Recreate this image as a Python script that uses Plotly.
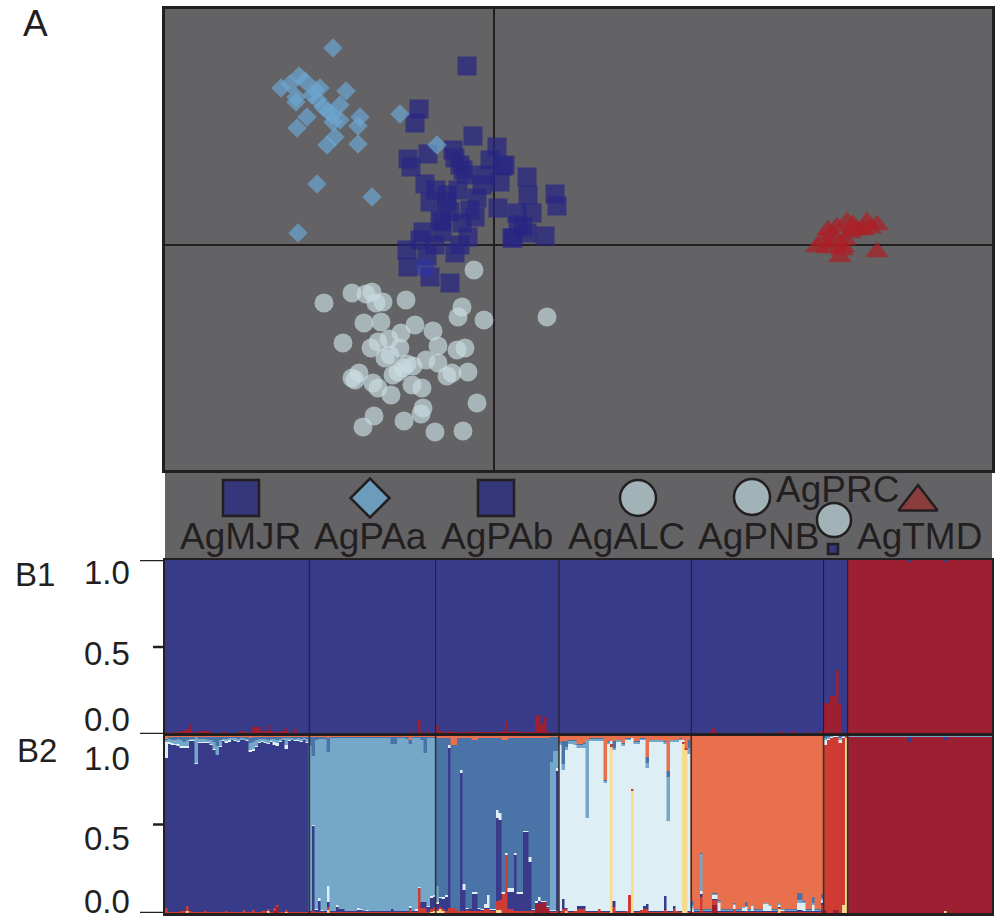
import plotly.graph_objects as go

FONT = "Liberation Sans, Arial, Helvetica, sans-serif"
INK = "#231f20"

# ===================== Panel A : PCA scores (PC1, PC2) =====================
MJR_pc1 = [-0.27,-0.75,-0.79,-0.21,0.03,-0.66,-0.86,-0.83,-0.41,-0.39,-0.34,-0.31,-0.28,-0.09,0.09,
           0.06,0.33,-0.69,-0.47,-0.17,-0.64,0.34,0.61,0.63,0.04,-0.44,-0.19,0.23,0.38]
MJR_pc2 = [1.79,1.36,1.22,1.09,0.98,0.91,0.86,0.78,0.95,0.87,0.80,0.75,0.70,0.70,0.79,
           0.63,0.68,0.61,0.50,0.47,0.43,0.50,0.51,0.39,0.37,0.33,0.28,0.32,0.32]
PAb_pc1 = [-0.52,-0.32,0.24,-0.71,-0.52,-0.26,0.18,0.33,0.51,-0.87,-0.67,-0.39,-0.86,-0.64,
           -0.44,0.11,0.29,0.19,-0.54,-0.47,-0.58,-0.36,-0.12,-0.04,-0.24,-0.74,-0.59,-0.34]
PAb_pc2 = [0.23,0.22,0.20,0.13,0.13,0.08,0.07,0.12,0.09,-0.05,-0.11,-0.08,-0.22,-0.32,
           -0.38,0.80,0.18,0.07,0.25,0.43,0.55,0.55,0.60,0.85,0.35,0.05,0.00,0.00]
PAa_pc1 = [-1.61,-2.13,-1.95,-1.89,-1.98,-1.98,-1.79,-1.74,-1.48,-1.76,-1.71,-1.54,-1.62,-1.61,-1.87,
           -1.97,-1.34,-1.36,-1.59,-1.67,-1.36,-0.94,-0.57,-1.77,-1.22,-1.96,-1.82,-1.66,-2.04,-1.54]
PAa_pc2 = [1.97,1.57,1.69,1.64,1.48,1.43,1.55,1.57,1.54,1.45,1.38,1.40,1.30,1.23,1.28,
           1.17,1.28,1.19,1.08,1.00,1.01,1.31,1.00,0.61,0.48,0.12,1.50,1.34,1.61,1.25]
ALC_pc1 = [-0.20,-1.70,-1.42,-1.28,-1.22,-1.18,-1.11,-0.88,-0.32,-0.36,-0.10,0.53,-1.30,-1.13,
           -0.79,-0.61,-1.51,-1.23,-1.16,-1.05,-0.93,-0.94,-0.56,-0.37,-0.29,-1.09,-1.04]
ALC_pc2 = [-0.25,-0.58,-0.48,-0.49,-0.47,-0.58,-0.57,-0.55,-0.62,-0.72,-0.75,-0.72,-0.78,-0.77,
           -0.80,-0.86,-0.98,-1.03,-0.97,-0.94,-0.88,-1.03,-1.01,-1.05,-1.03,-1.13,-1.10]
PNB_pc1 = [-0.87,-0.81,-0.68,-0.56,-1.35,-1.42,-1.39,-1.21,-1.16,-1.01,-0.96,-0.91,-0.82,
           -0.72,-1.03,-0.47,-0.42,-0.26,-0.17,-1.20,-1.31,-0.90,-0.71,-0.73,-0.59,-0.31]
PNB_pc2 = [-1.19,-1.21,-1.15,-1.18,-1.28,-1.33,-1.35,-1.38,-1.43,-1.30,-1.27,-1.23,-1.40,
           -1.43,-1.50,-1.31,-1.28,-1.27,-1.58,-1.71,-1.82,-1.76,-1.63,-1.69,-1.87,-1.86]
PRC_pc1 = [-0.69]
PRC_pc2 = [-0.23]
TMD_pc1 = [3.34,3.43,3.53,3.59,3.73,3.83,3.29,3.23,3.33,3.48,3.49,3.46,3.83,3.69,3.63,
           3.38,3.56,3.39,3.76,3.51]
TMD_pc2 = [0.15,0.18,0.23,0.20,0.23,0.20,0.05,-0.02,-0.03,-0.05,-0.02,-0.12,-0.07,0.15,0.15,
           0.02,0.12,0.10,0.17,0.05]

# ===================== Panel B : population order and sizes =====================
populations = ["AgMJR", "AgPAa", "AgPAb", "AgALC", "AgPNB", "AgPRC", "AgTMD"]
pop_sizes = [48, 42, 41, 44, 44, 8, 48]

# ---- B1 (K=2): proportion of the red cluster; the remainder is the blue cluster ----
B1_MJR_red = [0.01,0.008,0.01,0.01,0.012,0.015,0.02,0.03,0.06,0.01,
              0.008,0.015,0.015,0.015,0.015,0.01,0.008,0.008,0.008,0.012,
              0.01,0.008,0.008,0.008,0.012,0.015,0.01,0.01,0.008,0.04,
              0.04,0.04,0.015,0.015,0.05,0.015,0.012,0.012,0.015,0.015,
              0.035,0.01,0.008,0.03,0.008,0.008,0.005,0.005]
B1_PAa_red = [0.003,0.003,0.004,0.003,0.003,0.003,0.004,0.003,0.003,0.003,
              0.003,0.003,0.003,0.003,0.003,0.004,0.003,0.003,0.003,0.003,
              0.003,0.003,0.003,0.003,0.003,0.003,0.003,0.003,0.004,0.003,
              0.003,0.003,0.008,0.015,0.003,0.003,0.08,0.01,0.003,0.02,
              0.005,0.005]
B1_PAb_red = [0.05,0.02,0.012,0.012,0.015,0.012,0.01,0.012,0.012,0.01,
              0.01,0.012,0.015,0.01,0.01,0.012,0.01,0.01,0.01,0.012,
              0.01,0.01,0.015,0.075,0.01,0.015,0.02,0.01,0.01,0.01,
              0.01,0.01,0.01,0.11,0.11,0.055,0.1,0.01,0.01,0.005,
              0.005]
B1_ALC_red = [0.004,0.004,0.005,0.004,0.004,0.004,0.004,0.005,0.004,0.004,
              0.004,0.004,0.004,0.004,0.005,0.004,0.004,0.004,0.004,0.004,
              0.004,0.004,0.004,0.004,0.004,0.004,0.004,0.004,0.004,0.004,
              0.004,0.004,0.004,0.004,0.004,0.004,0.004,0.004,0.004,0.004,
              0.004,0.004,0.004,0.004]
B1_PNB_red = [0.008,0.008,0.008,0.008,0.008,0.008,0.01,0.033,0.01,0.008,
              0.008,0.008,0.008,0.008,0.008,0.008,0.008,0.008,0.008,0.008,
              0.008,0.008,0.012,0.008,0.008,0.008,0.008,0.008,0.008,0.012,
              0.012,0.008,0.008,0.02,0.012,0.008,0.008,0.008,0.012,0.008,
              0.008,0.008,0.01,0.02]
B1_PRC_red = [0.18,0.18,0.22,0.22,0.37,0.17,0.0,0.0]
B1_TMD_red = [1.0,1.0,1.0,1.0,1.0,1.0,1.0,1.0,1.0,1.0,
              1.0,1.0,1.0,1.0,1.0,1.0,1.0,1.0,1.0,1.0,
              0.99,1.0,1.0,1.0,1.0,1.0,1.0,1.0,1.0,1.0,
              1.0,1.0,0.99,1.0,1.0,1.0,1.0,1.0,1.0,1.0,
              1.0,1.0,1.0,1.0,1.0,1.0,1.0,1.0]

# ---- B2: minor cluster memberships per individual (the dominant cluster is the remainder) ----
MJR_pale = [0.09,0.01,0.01,0.005,0.01,0.012,0.012,0.012,0.005,0.005,
            0.005,0.005,0.005,0.005,0.005,0.005,0.005,0.005,0.005,0.005,
            0.01,0.008,0.005,0.005,0.005,0.005,0.005,0.005,0.012,0.012,
            0.005,0.005,0.005,0.005,0.005,0.005,0.015,0.015,0.005,0.005,
            0.022,0.005,0.005,0.005,0.01,0.005,0.005,0.005]
MJR_lblue = [0.01,0.02,0.02,0.02,0.03,0.03,0.02,0.03,0.01,0.01,
             0.15,0.02,0.02,0.02,0.015,0.02,0.04,0.05,0.03,0.01,
             0.015,0.015,0.01,0.015,0.015,0.01,0.01,0.01,0.04,0.04,
             0.03,0.02,0.015,0.02,0.02,0.015,0.02,0.02,0.015,0.01,
             0.04,0.015,0.01,0.01,0.01,0.015,0.01,0.02]
MJR_mblue = [0.01,0.01,0.015,0.02,0.01,0.02,0.03,0.02,0.01,0.01,
             0.0,0.01,0.01,0.01,0.015,0.02,0.03,0.05,0.02,0.01,
             0.01,0.005,0.005,0.005,0.01,0.005,0.005,0.01,0.03,0.03,
             0.02,0.01,0.01,0.01,0.015,0.01,0.01,0.015,0.01,0.005,
             0.005,0.005,0.005,0.01,0.005,0.01,0.005,0.01]
MJR_orange = [0.015,0.005,0.005,0.005,0.005,0.005,0.005,0.005,0.005,0.005,
              0.005,0.005,0.005,0.005,0.005,0.005,0.005,0.005,0.005,0.005,
              0.005,0.005,0.005,0.005,0.005,0.005,0.005,0.005,0.01,0.005,
              0.005,0.005,0.005,0.005,0.005,0.005,0.005,0.005,0.005,0.005,
              0.005,0.005,0.005,0.005,0.005,0.005,0.005,0.005]
MJR_red = [0.027,0.008,0.008,0.008,0.008,0.01,0.01,0.03,0.01,0.008,
           0.008,0.008,0.008,0.01,0.008,0.008,0.008,0.008,0.008,0.008,
           0.01,0.008,0.008,0.008,0.008,0.008,0.015,0.008,0.008,0.015,
           0.008,0.008,0.01,0.01,0.01,0.008,0.02,0.01,0.008,0.008,
           0.01,0.008,0.008,0.008,0.008,0.008,0.008,0.008]
MJR_yellow = [0,0,0,0,0,0,0,0.01,0,0,
              0,0,0,0,0,0,0,0,0,0,
              0,0,0,0,0,0,0,0,0,0,
              0,0,0,0,0.012,0,0,0,0,0,
              0.006,0,0,0,0,0,0,0]
MJR_dred = [0,0,0,0,0,0,0,0,0,0,
            0,0,0,0,0,0,0,0,0,0,
            0,0,0,0,0,0,0,0,0,0,
            0,0,0,0,0,0,0.01,0.035,0,0,
            0,0,0,0,0,0,0,0]

PAa_navy = [0.003,0.48,0.01,0.06,0.005,0.003,0.025,0.003,0.003,0.03,
            0.015,0.015,0.003,0.003,0.003,0.003,0.01,0.01,0.003,0.008,
            0.003,0.003,0.003,0.003,0.003,0.003,0.003,0.015,0.003,0.003,
            0.003,0.003,0.003,0.01,0.003,0.003,0.003,0.03,0.03,0.03,
            0.06,0.06]
PAa_pale = [0.004,0.008,0.004,0.02,0.004,0.004,0.095,0.004,0.004,0.01,
            0.004,0.004,0.004,0.004,0.004,0.004,0.01,0.004,0.004,0.004,
            0.004,0.004,0.004,0.004,0.004,0.004,0.004,0.004,0.004,0.004,
            0.004,0.004,0.004,0.01,0.004,0.015,0.005,0.004,0.004,0.004,
            0.01,0.01]
PAa_mblue = [0.05,0.11,0.02,0.01,0.01,0.01,0.08,0.005,0.005,0.005,
             0.005,0.005,0.005,0.005,0.005,0.005,0.005,0.005,0.005,0.005,
             0.005,0.005,0.005,0.005,0.005,0.005,0.005,0.04,0.04,0.005,
             0.005,0.005,0.01,0.02,0.005,0.005,0.005,0.02,0.09,0.005,
             0.005,0.005]
PAa_orange = [0.005,0.005,0.005,0.005,0.005,0.005,0.01,0.005,0.005,0.005,
              0.005,0.005,0.005,0.005,0.005,0.005,0.005,0.005,0.005,0.005,
              0.005,0.005,0.005,0.005,0.005,0.005,0.005,0.005,0.005,0.005,
              0.005,0.005,0.005,0.025,0.005,0.005,0.005,0.005,0.005,0.005,
              0.005,0.005]
PAa_red = [0.006,0.01,0.006,0.006,0.006,0.006,0.02,0.006,0.006,0.006,
           0.006,0.006,0.006,0.006,0.006,0.006,0.006,0.006,0.006,0.006,
           0.006,0.006,0.006,0.006,0.006,0.006,0.006,0.006,0.006,0.006,
           0.006,0.006,0.006,0.02,0.006,0.006,0.14,0.03,0.03,0.006,
           0.02,0.02]
PAa_yellow = [0,0,0,0,0,0,0.015,0,0,0,
              0,0,0,0,0,0,0,0,0,0,
              0,0,0,0,0,0,0,0,0,0,
              0,0,0,0,0,0,0,0,0,0,
              0.005,0.012]

PAb_navy = [0.03,0.05,0.06,0.08,0.90,0.0,0.0,0.0,0.78,0.12,
            0.01,0.01,0.1,0.1,0.015,0.005,0.01,0.01,0.005,0.005,
            0.47,0.45,0.0,0.0,0.1,0.1,0.32,0.1,0.1,0.445,
            0.445,0.28,0.005,0.0,0.02,0.0,0.0,0.005,0.005,0.005,
            0.79]
PAb_pale = [0.01,0.005,0.01,0.01,0.02,0.0,0.0,0.0,0.02,0.035,
            0.005,0.005,0.01,0.01,0.005,0.005,0.02,0.07,0.005,0.005,
            0.045,0.04,0.01,0.01,0.02,0.02,0.01,0.01,0.01,0.01,
            0.01,0.025,0.005,0.01,0.02,0.01,0.005,0.005,0.005,0.005,
            0.02]
PAb_lblue = [0.09,0,0,0,0,0,0,0,0,0,
             0,0,0,0,0,0,0,0,0,0,
             0,0,0,0,0,0,0,0,0,0,
             0,0,0,0,0,0,0,0,0.84,0.9,
             0.095]
PAb_orange = [0.01,0.01,0.01,0.01,0.01,0.05,0.05,0.01,0.01,0.01,
              0.01,0.01,0.02,0.02,0.01,0.01,0.01,0.01,0.01,0.01,
              0.01,0.01,0.02,0.02,0.01,0.01,0.01,0.01,0.01,0.01,
              0.01,0.01,0.01,0.01,0.01,0.01,0.01,0.01,0.005,0.005,
              0.005]
PAb_red = [0.01,0.01,0.01,0.01,0.03,0.03,0.03,0.01,0.01,0.01,
           0.015,0.01,0.01,0.01,0.01,0.01,0.02,0.02,0.01,0.01,
           0.05,0.06,0.11,0.33,0.02,0.02,0.01,0.01,0.01,0.01,
           0.01,0.01,0.01,0.0,0.0,0.0,0.0,0.01,0.005,0.005,
           0.01]
PAb_dred = [0,0,0,0,0,0,0,0,0,0,
            0,0,0,0,0,0,0,0,0,0,
            0,0,0,0,0,0,0,0,0,0,
            0,0,0,0.055,0.05,0.06,0.06,0.02,0,0,
            0]
PAb_yellow = [0.01,0.025,0.01,0,0,0,0,0,0,0,
              0,0,0,0,0,0,0,0,0,0,
              0.017,0.015,0,0,0,0,0,0,0,0,
              0,0,0,0,0,0,0,0,0,0,
              0]

ALC_navy = [0.003,0.06,0.01,0.003,0.003,0.003,0.02,0.02,0.02,0.003,
            0.003,0.003,0.003,0.005,0.003,0.003,0.003,0.0,0.03,0.003,
            0.003,0.003,0.003,0.003,0.0,0.003,0.003,0.003,0.02,0.03,
            0.003,0.003,0.003,0.003,0.003,0.08,0.003,0.003,0.02,0.003,
            0.003,0.0,0.0,0.003]
ALC_red = [0.006,0.02,0.01,0.006,0.006,0.01,0.02,0.02,0.02,0.006,
           0.006,0.006,0.006,0.02,0.006,0.006,0.006,0.015,0.035,0.006,
           0.006,0.006,0.01,0.1,0.012,0.006,0.006,0.015,0.02,0.02,
           0.006,0.006,0.006,0.006,0.006,0.015,0.006,0.006,0.02,0.01,
           0.006,0.01,0.01,0.006]
ALC_yellow = [0,0,0.01,0,0,0,0,0,0,0,
              0,0,0,0,0,0,0,0.94,0,0,
              0,0,0,0,0.69,0,0,0,0,0,
              0,0,0,0,0,0,0,0,0,0,
              0,0.955,0.92,0]
ALC_lblue = [0.01,0.03,0.02,0.015,0.015,0.02,0.02,0.02,0.02,0.44,
             0.01,0.01,0.01,0.01,0.01,0.01,0.01,0.0,0.01,0.01,
             0.01,0.01,0.01,0.01,0.0,0.01,0.01,0.01,0.01,0.03,
             0.01,0.01,0.01,0.01,0.01,0.01,0.25,0.01,0.01,0.01,
             0.01,0.0,0.0,0.03]
ALC_mblue = [0.005,0.13,0.03,0.005,0.005,0.005,0.005,0.005,0.005,0.005,
             0.005,0.005,0.005,0.005,0.005,0.005,0.005,0.0,0.04,0.005,
             0.005,0.005,0.005,0.005,0.0,0.005,0.005,0.005,0.005,0.03,
             0.005,0.005,0.005,0.005,0.005,0.005,0.03,0.005,0.005,0.005,
             0.005,0.0,0.0,0.05]
ALC_orange = [0.035,0.03,0.03,0.025,0.025,0.025,0.045,0.045,0.04,0.02,
              0.012,0.012,0.012,0.012,0.012,0.25,0.03,0.03,0.03,0.02,
              0.02,0.04,0.01,0.01,0.01,0.03,0.03,0.01,0.01,0.12,
              0.02,0.02,0.02,0.02,0.02,0.03,0.2,0.02,0.02,0.02,
              0.01,0.02,0.07,0.02]

PNB_pale = [0.02,0.005,0.005,0.013,0.005,0.005,0.005,0.02,0.02,0.05,
            0.005,0.005,0.005,0.005,0.02,0.005,0.005,0.02,0.02,0.005,
            0.03,0.005,0.005,0.005,0.04,0.04,0.03,0.005,0.005,0.01,
            0.005,0.005,0.005,0.005,0.005,0.04,0.04,0.05,0.005,0.005,
            0.03,0.005,0.005,0.02]
PNB_lblue = [0.02,0.005,0.005,0.21,0.005,0.005,0.005,0.01,0.01,0.01,
             0.004,0.004,0.004,0.004,0.01,0.004,0.004,0.005,0.005,0.004,
             0.005,0.004,0.004,0.004,0.005,0.005,0.005,0.004,0.004,0.01,
             0.004,0.004,0.004,0.004,0.004,0.02,0.02,0.005,0.004,0.004,
             0.01,0.004,0.004,0.01]
PNB_mblue = [0.02,0.002,0.002,0.005,0.002,0.002,0.002,0.003,0.003,0.002,
             0.002,0.002,0.002,0.002,0.002,0.002,0.002,0.002,0.025,0.002,
             0.002,0.002,0.002,0.002,0.002,0.002,0.002,0.002,0.002,0.005,
             0.002,0.002,0.002,0.002,0.002,0.035,0.035,0.002,0.002,0.002,
             0.035,0.002,0.002,0.02]
PNB_navy = [0.003,0.003,0.003,0.02,0.003,0.003,0.003,0.005,0.005,0.003,
            0.003,0.003,0.003,0.003,0.003,0.003,0.003,0.003,0.003,0.003,
            0.003,0.003,0.003,0.003,0.003,0.003,0.003,0.003,0.003,0.003,
            0.003,0.003,0.003,0.003,0.003,0.01,0.01,0.003,0.003,0.003,
            0.008,0.003,0.003,0.01]
PNB_red = [0.005,0.006,0.006,0.09,0.006,0.006,0.006,0.03,0.03,0.006,
           0.006,0.006,0.006,0.006,0.02,0.006,0.006,0.006,0.01,0.006,
           0.006,0.006,0.006,0.006,0.006,0.006,0.006,0.006,0.006,0.006,
           0.01,0.006,0.006,0.006,0.006,0.006,0.006,0.006,0.006,0.006,
           0.006,0.006,0.006,0.03]
PNB_dred = [0,0,0,0,0,0,0,0.045,0.045,0,
            0,0,0,0,0,0,0,0,0,0,
            0,0,0,0,0,0,0,0,0,0,
            0,0,0,0,0,0,0,0,0,0,
            0,0,0,0.015]
PNB_yellow = [0,0,0,0,0,0,0,0,0,0,
              0,0,0,0,0,0,0,0,0,0,
              0,0,0,0,0,0,0,0,0,0.025,
              0,0,0,0,0,0,0,0,0,0,
              0,0,0,0]

PRC_pale = [0.03,0.01,0.005,0.005,0.005,0.02,0.005,0.0]
PRC_lblue = [0.01,0.01,0.005,0.0,0.0,0.01,0.005,0.0]
PRC_mblue = [0.01,0.005,0.0,0.0,0.0,0.01,0.0,0.0]
PRC_dred = [0.015,0.0,0.0,0.015,0.015,0.0,0.0,0.0]
PRC_yellow = [0.0,0.0,0.0,0.0,0.0,0.0,0.045,0.99]

TMD_navy = [0,0,0,0,0,0,0,0,0,0,
            0,0,0,0,0,0,0,0,0,0,
            0.03,0,0,0,0,0,0,0,0,0,
            0,0,0.015,0,0,0,0,0,0,0,
            0,0,0,0,0,0,0,0]
TMD_lblue = [0.005,0.005,0.005,0.005,0.005,0.005,0.005,0.005,0.005,0.005,
             0.005,0.005,0.005,0.005,0.005,0.005,0.005,0.005,0.005,0.005,
             0.005,0.005,0.005,0.005,0.005,0.005,0.005,0.005,0.005,0.005,
             0.005,0.005,0.005,0.005,0.005,0.005,0.005,0.005,0.005,0.005,
             0.005,0.005,0.005,0.005,0.005,0.005,0.005,0.005]
TMD_yellow = [0,0,0,0,0,0,0,0,0,0,
              0,0,0,0,0,0,0,0,0,0,
              0,0,0,0,0,0,0,0,0,0,
              0,0,0.01,0,0,0,0,0,0,0,
              0,0,0,0,0,0,0,0]

# cluster stacking order (bottom -> top) and colours
clusters = ["yellow", "dred", "red", "navy", "pale", "lblue", "mblue", "orange"]
cluster_colors = ["#f7da8e", "#9c1f32", "#cf3b33", "#383a8a", "#ddeef5", "#74a7c8", "#4a73a8", "#e8704c"]
main_cluster = ["navy", "lblue", "mblue", "pale", "orange", "red", "dred"]

B1_blue_color = "#383a8a"
B1_red_color = "#9c1f32"

# ===================== assemble =====================
b1_red_parts = [B1_MJR_red, B1_PAa_red, B1_PAb_red, B1_ALC_red, B1_PNB_red, B1_PRC_red, B1_TMD_red]
minor = [
    {"pale": MJR_pale, "lblue": MJR_lblue, "mblue": MJR_mblue, "orange": MJR_orange,
     "red": MJR_red, "yellow": MJR_yellow, "dred": MJR_dred},
    {"navy": PAa_navy, "pale": PAa_pale, "mblue": PAa_mblue, "orange": PAa_orange,
     "red": PAa_red, "yellow": PAa_yellow},
    {"navy": PAb_navy, "pale": PAb_pale, "lblue": PAb_lblue, "orange": PAb_orange,
     "red": PAb_red, "dred": PAb_dred, "yellow": PAb_yellow},
    {"navy": ALC_navy, "red": ALC_red, "yellow": ALC_yellow, "lblue": ALC_lblue,
     "mblue": ALC_mblue, "orange": ALC_orange},
    {"pale": PNB_pale, "lblue": PNB_lblue, "mblue": PNB_mblue, "navy": PNB_navy,
     "red": PNB_red, "dred": PNB_dred, "yellow": PNB_yellow},
    {"pale": PRC_pale, "lblue": PRC_lblue, "mblue": PRC_mblue, "dred": PRC_dred, "yellow": PRC_yellow},
    {"navy": TMD_navy, "lblue": TMD_lblue, "yellow": TMD_yellow},
]

def get(lst, i):
    return lst[i] if i < len(lst) else 0.0

b1_red, b1_blue = [], []
series = {c: [] for c in clusters}
for p, n in enumerate(pop_sizes):
    for i in range(n):
        r = get(b1_red_parts[p], i)
        b1_red.append(r)
        b1_blue.append(max(0.0, 1.0 - r))
        parts = minor[p]
        tot = sum(get(parts[c], i) for c in parts)
        for c in clusters:
            if c == main_cluster[p]:
                series[c].append(max(0.0, 1.0 - tot))
            else:
                series[c].append(get(parts[c], i) if c in parts else 0.0)

N = sum(pop_sizes)
xs = list(range(N))

fig = go.Figure()

# ---------- Panel A scatter ----------
SQ = "rgba(40,38,130,0.72)"
CIRC = "rgba(200,220,224,0.68)"
scatter_groups = [
    (ALC_pc1, ALC_pc2, "circle", 19, CIRC),
    (PNB_pc1, PNB_pc2, "circle", 19, CIRC),
    (MJR_pc1, MJR_pc2, "square", 19, SQ),
    (PAb_pc1, PAb_pc2, "square", 19, SQ),
    (PRC_pc1, PRC_pc2, "circle", 19, "rgba(45,52,170,0.6)"),
    (PAa_pc1, PAa_pc2, "diamond", 15, "rgba(108,165,208,0.72)"),
    (TMD_pc1, TMD_pc2, "triangle-up", 21, "rgba(172,32,38,0.7)"),
]
for px, py, sym, sz, col in scatter_groups:
    fig.add_trace(go.Scatter(x=px, y=py, mode="markers", xaxis="x", yaxis="y",
                             marker=dict(symbol=sym, size=sz, color=col, line=dict(width=0)),
                             hoverinfo="skip", showlegend=False))

# ---------- B1 ----------
for vals, col in [(b1_red, B1_red_color), (b1_blue, B1_blue_color)]:
    fig.add_trace(go.Bar(x=xs, y=vals, width=1, xaxis="x2", yaxis="y2",
                         marker=dict(color=col, line=dict(color=col, width=0.5)),
                         hoverinfo="skip", showlegend=False))

# ---------- B2 ----------
for c, col in zip(clusters, cluster_colors):
    fig.add_trace(go.Bar(x=xs, y=series[c], width=1, xaxis="x3", yaxis="y3",
                         marker=dict(color=col, line=dict(color=col, width=0.5)),
                         hoverinfo="skip", showlegend=False))

# ---------- legend strip (own axis in pixel-like units) ----------
legend_items = [  # symbol, size, fill, x, y
    ("square", 36, "#36367a", 241, 498),
    ("diamond", 30, "#6c9cbb", 370, 498),
    ("square", 36, "#36367a", 496, 498),
    ("circle", 36, "#a2b3b7", 638, 498),
    ("circle", 36, "#a2b3b7", 752, 497),
    ("circle", 34, "#a2b3b7", 834, 520),
    ("square", 10, "#36367a", 833, 549),
    ("triangle-up", 34, "#8b3c3c", 918, 502),
]
for sym, sz, fill, lx, ly in legend_items:
    fig.add_trace(go.Scatter(x=[lx], y=[ly], mode="markers", xaxis="x4", yaxis="y4",
                             marker=dict(symbol=sym, size=sz, color=fill, line=dict(color=INK, width=2.5)),
                             hoverinfo="skip", showlegend=False, cliponaxis=False))

legend_labels = [("AgMJR", 240, 536), ("AgPAa", 370, 536), ("AgPAb", 497, 536), ("AgALC", 626, 536),
                 ("AgPNB", 758, 536), ("AgPRC", 837, 489), ("AgTMD", 919, 536)]

annotations = []
for txt, lx, ly in legend_labels:
    annotations.append(dict(text=txt, x=lx, y=ly, xref="x4", yref="y4", showarrow=False,
                            xanchor="center", yanchor="middle", font=dict(size=37, color=INK, family=FONT)))

def py2paper(y):
    return 1 - y / 920.0

for txt, yy in [("1.0", 572), ("0.5", 653), ("0.0", 719), ("1.0", 758), ("0.5", 838), ("0.0", 901)]:
    annotations.append(dict(text=txt, x=0.132, y=py2paper(yy), xref="paper", yref="paper", showarrow=False,
                            xanchor="right", yanchor="middle", font=dict(size=33, color=INK, family=FONT)))
for txt, xx, yy, fs in [("A", 35, 23, 37), ("B1", 35, 574, 33), ("B2", 37, 750, 33)]:
    annotations.append(dict(text=txt, x=xx / 1000.0, y=py2paper(yy), xref="paper", yref="paper",
                            showarrow=False, xanchor="center", yanchor="middle",
                            font=dict(size=fs, color=INK, family=FONT)))

# ---------- shapes: separators and tick marks ----------
shapes = []
cum = 0
for n in pop_sizes[:-1]:
    cum += n
    shapes.append(dict(type="line", xref="x2", yref="y2", x0=cum - 0.5, x1=cum - 0.5, y0=0, y1=1,
                       line=dict(color=INK, width=1)))
    shapes.append(dict(type="line", xref="x3", yref="y3", x0=cum - 0.5, x1=cum - 0.5, y0=0, y1=1,
                       line=dict(color="#333333", width=1.6)))
for yr, val, x0 in [("y2", 1.0, 0.140), ("y2", 0.5, 0.153), ("y2", 0.0, 0.140),
                    ("y3", 0.5, 0.153), ("y3", 0.0, 0.140)]:
    shapes.append(dict(type="line", xref="paper", yref=yr, x0=x0, x1=0.165, y0=val, y1=val,
                       line=dict(color=INK, width=2.5)))

hidden = dict(showgrid=False, zeroline=False, showticklabels=False, ticks="", fixedrange=True)
dom_x = [0.165, 0.992]

fig.update_layout(
    width=1000, height=920,
    margin=dict(l=0, r=0, t=0, b=0),
    paper_bgcolor="white",
    plot_bgcolor="#636365",
    barmode="stack", bargap=0,
    showlegend=False,
    font=dict(family=FONT, color=INK),
    xaxis=dict(hidden, domain=dom_x, range=[-3.29, 4.98], anchor="y",
               zeroline=True, zerolinecolor=INK, zerolinewidth=1.6,
               showline=True, mirror=True, linecolor=INK, linewidth=2.5),
    yaxis=dict(hidden, domain=[py2paper(470), py2paper(9)], range=[-2.25, 2.36], anchor="x",
               zeroline=True, zerolinecolor=INK, zerolinewidth=1.6,
               showline=True, mirror=True, linecolor=INK, linewidth=2.5),
    xaxis2=dict(hidden, domain=dom_x, range=[-0.5, N - 0.5], anchor="y2",
                showline=True, mirror=True, linecolor=INK, linewidth=2),
    yaxis2=dict(hidden, domain=[py2paper(734), py2paper(560)], range=[0, 1], anchor="x2",
                showline=True, mirror=True, linecolor=INK, linewidth=2),
    xaxis3=dict(hidden, domain=dom_x, range=[-0.5, N - 0.5], anchor="y3",
                showline=True, mirror=True, linecolor=INK, linewidth=2.5),
    yaxis3=dict(hidden, domain=[py2paper(913), py2paper(736)], range=[0, 1], anchor="x3",
                showline=True, mirror=True, linecolor=INK, linewidth=2),
    xaxis4=dict(hidden, domain=dom_x, range=[165, 992], anchor="y4"),
    yaxis4=dict(hidden, domain=[py2paper(559), py2paper(471)], range=[559, 471], anchor="x4"),
    annotations=annotations,
    shapes=shapes,
)

fig.write_html("out.html")
